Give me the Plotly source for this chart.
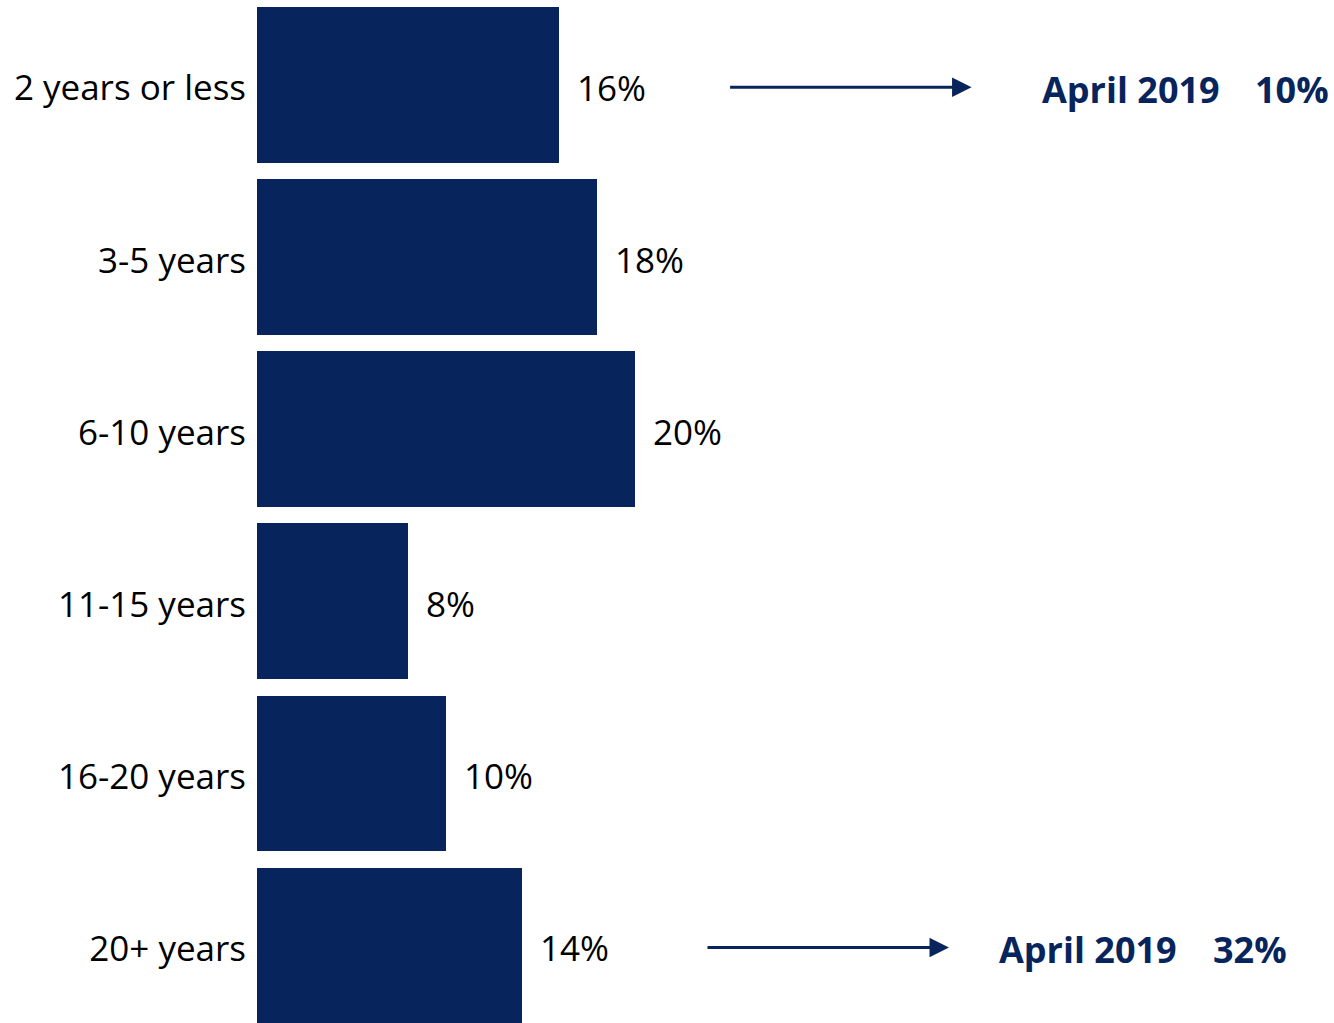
import plotly.graph_objects as go

# Share of respondents by length of time in role
categories = ["2 years or less", "3-5 years", "6-10 years", "11-15 years", "16-20 years", "20+ years"]
shares = [16, 18, 20, 8, 10, 14]
value_labels = ["16%", "18%", "20%", "8%", "10%", "14%"]

# Comparison figures for April 2019
comparison_categories = ["2 years or less", "20+ years"]
comparison_period = ["April 2019", "April 2019"]
comparison_values = ["10%", "32%"]

NAVY = "#08245C"
FONT = "Open Sans"

fig = go.Figure()
fig.add_trace(go.Bar(
    x=shares,
    y=categories,
    orientation="h",
    marker=dict(color=NAVY, line=dict(width=0)),
    width=0.906,
    hoverinfo="skip",
))

annotations = []
for cat, val, lab in zip(categories, shares, value_labels):
    annotations.append(dict(
        x=val, y=cat, xref="x", yref="y", text=lab, showarrow=False,
        xanchor="left", yanchor="middle", xshift=16, yshift=-2,
        font=dict(family=FONT, size=35, color="#000000"),
    ))

# Arrow pointing to the April 2019 comparison value
arrow_tips = [0.6635, 0.6425]
period_x = [0.7270, 0.6871]
value_right = [0.9972, 0.9582]
for cat, per, val, tip, px, vr in zip(comparison_categories, comparison_period,
                                      comparison_values, arrow_tips, period_x, value_right):
    annotations.append(dict(
        x=tip, y=cat, xref="paper", yref="y", ax=-243, ay=0,
        axref="pixel", ayref="pixel", text="", showarrow=True,
        arrowhead=2, arrowsize=1.3, arrowwidth=3, arrowcolor=NAVY, yshift=-2,
    ))
    annotations.append(dict(
        x=px, y=cat, xref="paper", yref="y", text=per, showarrow=False,
        xanchor="left", yanchor="middle", yshift=-4,
        font=dict(family=FONT, size=36, color=NAVY, weight="bold"),
    ))
    annotations.append(dict(
        x=vr, y=cat, xref="paper", yref="y", text=val, showarrow=False,
        xanchor="right", yanchor="middle", yshift=-4,
        font=dict(family=FONT, size=36, color=NAVY, weight="bold"),
    ))

fig.update_layout(
    width=1334, height=1023,
    margin=dict(l=257, r=0, t=0, b=0),
    plot_bgcolor="white", paper_bgcolor="white",
    showlegend=False,
    bargap=0,
    annotations=annotations,
    xaxis=dict(range=[0, 57], visible=False, showgrid=False, zeroline=False),
    yaxis=dict(
        type="category", categoryorder="array", categoryarray=categories,
        range=[5.45, -0.495], showgrid=False, zeroline=False, showline=False,
        ticks="", ticklabelstandoff=10, ticklabelshift=-3,
        tickfont=dict(family=FONT, size=35, color="#000000"),
    ),
)

fig.write_html("out.html")
